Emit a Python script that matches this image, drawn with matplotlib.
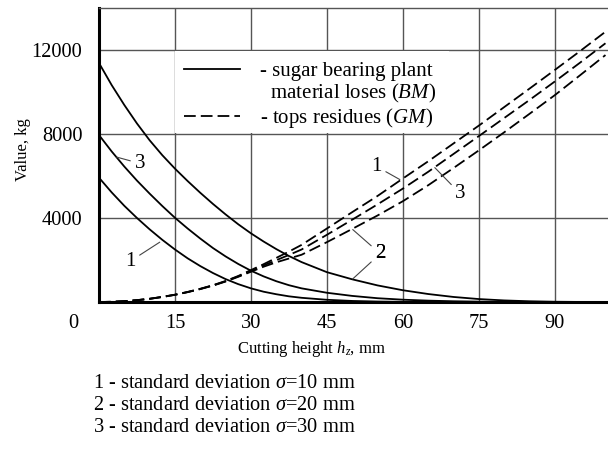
import matplotlib
matplotlib.use("Agg")
import matplotlib.pyplot as plt
from matplotlib.lines import Line2D
from matplotlib.patches import Rectangle

plt.rcParams['font.family'] = ['Liberation Serif', 'DejaVu Serif']
plt.rcParams['mathtext.fontset'] = 'custom'
plt.rcParams['mathtext.rm'] = 'Liberation Serif'
plt.rcParams['mathtext.it'] = 'Liberation Serif:italic'

# cutting height, mm
h = [0, 2.5, 5, 7.5, 10, 12.5, 15, 17.5, 20, 22.5, 25, 27.5, 30, 32.5, 35, 37.5, 40,
     45, 50, 55, 60, 65, 70, 75, 80, 85, 90, 95, 100]

# sugar bearing plant material loses (BM), kg
bm_1 = [5920, 5220, 4580, 4000, 3460, 2960, 2500, 2080, 1710, 1380, 1090, 850, 650, 490,
        370, 270, 200, 105, 50, 22, 8, 0, 0, 0, 0, 0, 0, 0, 0]
bm_2 = [11380, 10330, 9380, 8500, 7700, 6990, 6350, 5760, 5200, 4670, 4170, 3700, 3270,
        2880, 2520, 2190, 1900, 1420, 1080, 790, 560, 380, 240, 140, 75, 35, 12, 3, 0]
bm_3 = [7950, 7170, 6450, 5780, 5160, 4570, 4010, 3500, 3020, 2570, 2170, 1810, 1490,
        1220, 990, 800, 650, 440, 290, 180, 110, 65, 35, 18, 8, 3, 0, 0, 0]

# tops residues (GM), kg
gm_1 = [0, 10, 40, 90, 155, 245, 350, 480, 630, 800, 1000, 1240, 1520, 1800, 2100, 2400,
        2720, 3500, 4280, 5050, 5880, 6700, 7550, 8400, 9280, 10160, 11050, 11950, 12870]
gm_2 = [0, 10, 38, 86, 150, 238, 340, 468, 615, 780, 975, 1200, 1440, 1680, 1890, 2070,
        2250, 2850, 3480, 4120, 4800, 5560, 6380, 7220, 8080, 8960, 9850, 10800, 11760]
gm_3 = [0, 10, 39, 88, 152, 242, 345, 474, 622, 790, 988, 1220, 1480, 1740, 1990, 2240,
        2500, 3200, 3920, 4650, 5400, 6200, 7050, 7900, 8760, 9620, 10500, 11400, 12320]

x_ticks = [15, 30, 45, 60, 75, 90]
y_ticks = [4000, 8000, 12000]

notes = ["1 - standard deviation $\\mathit{\\sigma}$=10 mm",
         "2 - standard deviation $\\mathit{\\sigma}$=20 mm",
         "3 - standard deviation $\\mathit{\\sigma}$=30 mm"]

fig = plt.figure(figsize=(6.08, 4.5), dpi=100)
ax = fig.add_axes([99 / 608, 148 / 450, 509 / 608, 294 / 450])

lw = 1.3
dash = (0, (6.5, 2.8))
for ys in (bm_1, bm_2, bm_3):
    ax.plot(h, ys, color='black', lw=lw, zorder=3)
for ys in (gm_1, gm_2, gm_3):
    ax.plot(h, ys, color='black', lw=lw, linestyle=dash, zorder=3)

ax.set_xlim(0, 100.5)
ax.set_ylim(0, 14000)
ax.set_xticks(x_ticks)
ax.set_yticks(y_ticks)
ax.tick_params(length=0, labelsize=14.7)
ax.tick_params(axis='x', pad=9)
ax.tick_params(axis='y', pad=12)
ax.grid(True, color='#555555', lw=1.0)
ax.set_axisbelow(True)

for s in ('left', 'bottom'):
    ax.spines[s].set_linewidth(2.2)
ax.spines['top'].set_color('#555555')
ax.spines['top'].set_linewidth(1.0)
ax.spines['right'].set_visible(False)

ax.text(-0.051, -0.072, "0", transform=ax.transAxes, ha='center', va='center', fontsize=14.7)

ax.set_ylabel("Value, kg", fontsize=12)
ax.yaxis.set_label_coords(-0.133, 0.517)
ax.set_xlabel("Cutting height $h_z$, mm", fontsize=12)
ax.xaxis.set_label_coords(0.418, -0.126)

# white panel behind the legend
ax.add_patch(Rectangle((15.1, 8040), 54, 3920, facecolor='white', edgecolor='none', zorder=1.5))

handles = [Line2D([], [], color='black', lw=lw),
           Line2D([], [], color='none'),
           Line2D([], [], color='black', lw=lw, linestyle=dash)]
labels = ["- sugar bearing plant",
          "  material loses ($\\mathit{BM}$)",
          "- tops residues ($\\mathit{GM}$)"]
leg = ax.legend(handles, labels, loc='upper left', bbox_to_anchor=(16.8, 11460),
                bbox_transform=ax.transData, frameon=False, fontsize=15,
                handlelength=2.7, handletextpad=0.95, labelspacing=0.05,
                borderpad=0, borderaxespad=0)
leg.set_zorder(4)

# curve labels with leader lines
lab = dict(fontsize=15, color='black', va='center', ha='left',
           arrowprops=dict(arrowstyle='-', color='#444444', lw=0.8, shrinkA=1, shrinkB=0))
ax.annotate("3", xy=(3.5, 6900), xytext=(7.0, 6600), **lab)
ax.annotate("1", xy=(12.0, 2850), xytext=(5.2, 1950), **lab)
ax.annotate("1", xy=(59.4, 5830), xytext=(53.8, 6450), **lab)
ax.annotate("3", xy=(66.3, 6400), xytext=(70.3, 5150), **lab)
ax.annotate("2", xy=(50.1, 3450), xytext=(54.5, 2300), **lab)
ax.annotate("2", xy=(50.1, 1100), xytext=(54.5, 2300), **lab)

for i, t in enumerate(notes):
    fig.text(93 / 608, 1 - (383 + 22.5 * i) / 450, t, fontsize=14.7, va='center', ha='left')

fig.savefig("out.png", dpi=100)
